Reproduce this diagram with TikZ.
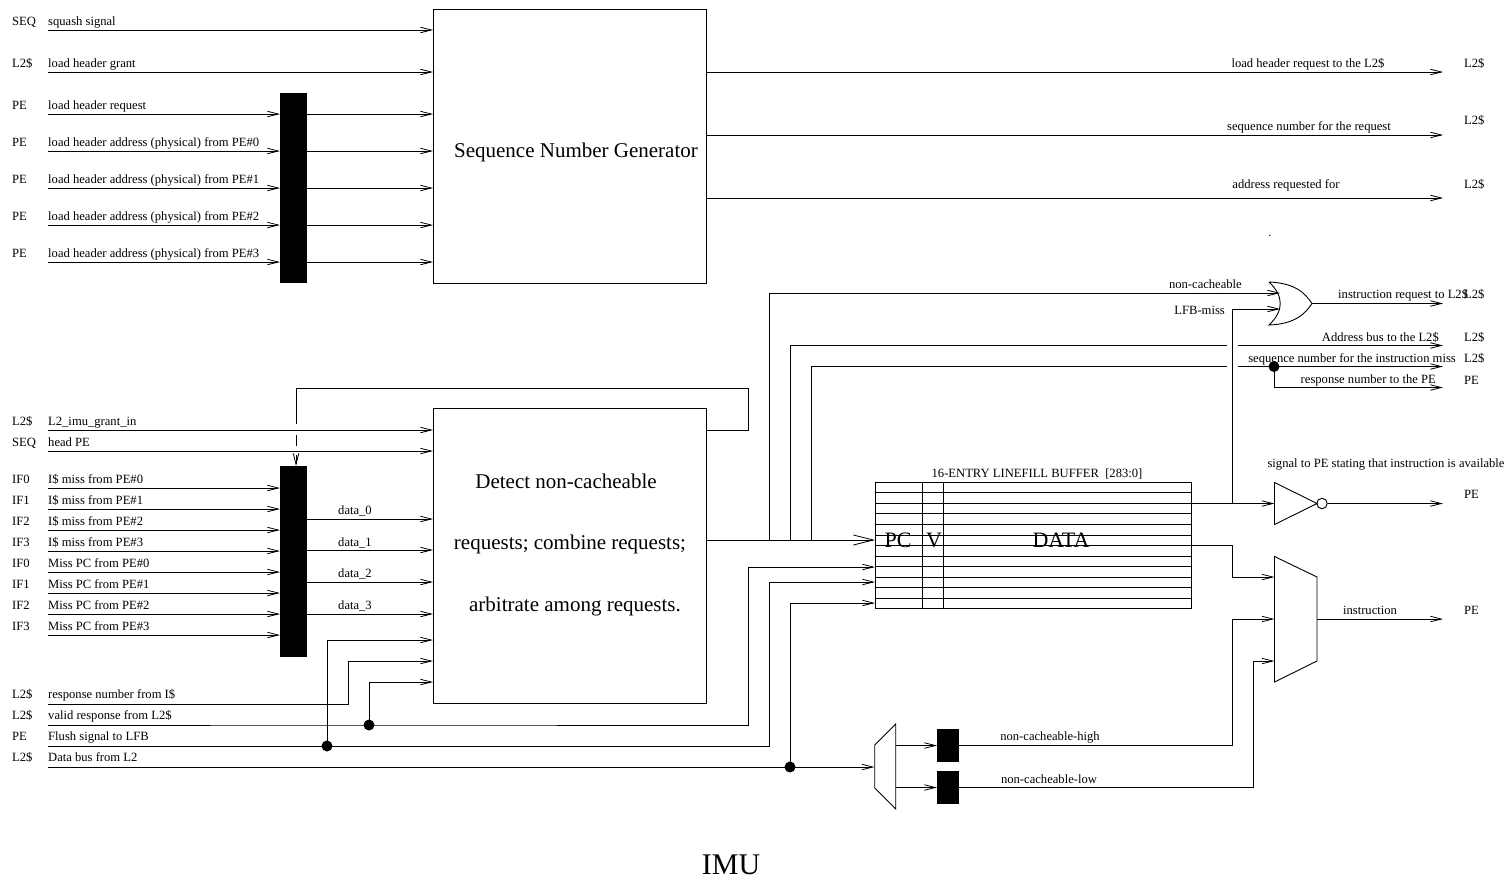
\documentclass[tikz,border=0pt]{standalone}
\usepackage{fontspec}
\setmainfont{Liberation Serif}
\usetikzlibrary{arrows.meta,calc,positioning}
\tikzset{
  wire/.style={line width=0.9pt},
  sig/.style={wire,-{Straight Barb[length=11pt,width=5.5pt,line width=0.8pt]}},
  bigsig/.style={wire,-{Straight Barb[length=20pt,width=10pt,line width=0.8pt]}},
  block/.style={draw,line width=0.9pt,inner sep=0pt,outer sep=0pt,font=\fontsize{21}{24}\selectfont},
  blackbar/.style={fill=black,inner sep=0pt,outer sep=0pt},
  junct/.style={circle,fill=black,inner sep=0pt,minimum size=11pt},
  lbl/.style={inner sep=0pt,font=\fontsize{12.6}{14}\selectfont,anchor=base west},
  lblr/.style={lbl,anchor=base east},
  lblc/.style={lbl,anchor=base},
  fieldlbl/.style={inner sep=0pt,font=\fontsize{22}{24}\selectfont,anchor=base},
  biglbl/.style={inner sep=0pt,font=\fontsize{21}{24}\selectfont,anchor=base},
}
\begin{document}
\begin{tikzpicture}[x=1pt,y=-1pt]
  \useasboundingbox (0,0) rectangle (1512,878);
  % main blocks
  \node[block,minimum width=273pt,minimum height=274pt] (seqgen) at (569.5,146) {};
  \node[block,minimum width=273pt,minimum height=295pt] (detect) at (569.5,556) {};
  \node[blackbar,minimum width=27pt,minimum height=190pt] (barA) at (293.5,188) {};
  \node[blackbar,minimum width=27pt,minimum height=191pt] (barB) at (293.5,561.5) {};
  \node[biglbl] (seqtext) at (576,157) {Sequence Number Generator};
  \node[biglbl] (dettextA) at (566,488) {Detect non-cacheable};
  \node[biglbl] (dettextB) at (570,549) {requests; combine requests;};
  \node[biglbl] (dettextC) at (575,611) {arbitrate among requests.};

  % inputs of the sequence number generator
  \node[lbl] (srcA) at (12,25) {SEQ};
  \node[lbl] (srcB) at (12,67) {L2\$};
  \node[lbl] (srcC) at (12,109) {PE};
  \node[lbl] (srcD) at (12,146) {PE};
  \node[lbl] (srcE) at (12,183) {PE};
  \node[lbl] (srcF) at (12,220) {PE};
  \node[lbl] (srcG) at (12,257) {PE};
  \node[lbl] (nameA) at (48,25) {squash signal};
  \node[lbl] (nameB) at (48,67) {load header grant};
  \node[lbl] (nameC) at (48,109) {load header request};
  \node[lbl] (nameD) at (48,146) {load header address (physical) from PE\#0};
  \node[lbl] (nameE) at (48,183) {load header address (physical) from PE\#1};
  \node[lbl] (nameF) at (48,220) {load header address (physical) from PE\#2};
  \node[lbl] (nameG) at (48,257) {load header address (physical) from PE\#3};
  \coordinate (inA) at (48,30);
  \coordinate (inB) at (48,72);
  \coordinate (inC) at (48,114);
  \coordinate (inD) at (48,151);
  \coordinate (inE) at (48,188);
  \coordinate (inF) at (48,225);
  \coordinate (inG) at (48,262);
  \draw[sig] (inA) -- (inA -| seqgen.west);
  \draw[sig] (inB) -- (inB -| seqgen.west);
  \draw[sig] (inC) -- (inC -| barA.west);
  \draw[sig] (inD) -- (inD -| barA.west);
  \draw[sig] (inE) -- (inE -| barA.west);
  \draw[sig] (inF) -- (inF -| barA.west);
  \draw[sig] (inG) -- (inG -| barA.west);
  \draw[sig] (inC -| barA.east) -- (inC -| seqgen.west);
  \draw[sig] (inD -| barA.east) -- (inD -| seqgen.west);
  \draw[sig] (inE -| barA.east) -- (inE -| seqgen.west);
  \draw[sig] (inF -| barA.east) -- (inF -| seqgen.west);
  \draw[sig] (inG -| barA.east) -- (inG -| seqgen.west);

  % outputs of the sequence number generator
  \coordinate (outA) at (1443,72);
  \coordinate (outB) at (1443,135);
  \coordinate (outC) at (1443,198);
  \draw[sig] (outA -| seqgen.east) -- (outA);
  \draw[sig] (outB -| seqgen.east) -- (outB);
  \draw[sig] (outC -| seqgen.east) -- (outC);
  \node[lblc] (outnameA) at (1308,67) {load header request to the L2\$};
  \node[lblc] (outnameB) at (1309,130) {sequence number for the request};
  \node[lblc] (outnameC) at (1286,188) {address requested for};
  \node[lbl] (dstA) at (1464,67) {L2\$};
  \node[lbl] (dstB) at (1464,124) {L2\$};
  \node[lbl] (dstC) at (1464,188) {L2\$};
  \node[lblc] (stray) at (1270,236) {.};

  % inputs of the detect block
  \node[lbl] (srcH) at (12,425) {L2\$};
  \node[lbl] (srcI) at (12,446) {SEQ};
  \node[lbl] (nameH) at (48,425) {L2\_imu\_grant\_in};
  \node[lbl] (nameI) at (48,446) {head PE};
  \coordinate (inH) at (48,430);
  \coordinate (inI) at (48,451);
  \draw[sig] (inH) -- (inH -| detect.west);
  \draw[sig] (inI) -- (inI -| detect.west);
  \node[lbl] (srcJ) at (12,483) {IF0};
  \node[lbl] (srcK) at (12,504) {IF1};
  \node[lbl] (srcL) at (12,525) {IF2};
  \node[lbl] (srcM) at (12,546) {IF3};
  \node[lbl] (srcN) at (12,567) {IF0};
  \node[lbl] (srcO) at (12,588) {IF1};
  \node[lbl] (srcP) at (12,609) {IF2};
  \node[lbl] (srcQ) at (12,630) {IF3};
  \node[lbl] (nameJ) at (48,483) {I\$ miss from PE\#0};
  \node[lbl] (nameK) at (48,504) {I\$ miss from PE\#1};
  \node[lbl] (nameL) at (48,525) {I\$ miss from PE\#2};
  \node[lbl] (nameM) at (48,546) {I\$ miss from PE\#3};
  \node[lbl] (nameN) at (48,567) {Miss PC from PE\#0};
  \node[lbl] (nameO) at (48,588) {Miss PC from PE\#1};
  \node[lbl] (nameP) at (48,609) {Miss PC from PE\#2};
  \node[lbl] (nameQ) at (48,630) {Miss PC from PE\#3};
  \coordinate (inJ) at (48,488);
  \coordinate (inK) at (48,509);
  \coordinate (inL) at (48,530);
  \coordinate (inM) at (48,551);
  \coordinate (inN) at (48,572);
  \coordinate (inO) at (48,593);
  \coordinate (inP) at (48,614);
  \coordinate (inQ) at (48,635);
  \draw[sig] (inJ) -- (inJ -| barB.west);
  \draw[sig] (inK) -- (inK -| barB.west);
  \draw[sig] (inL) -- (inL -| barB.west);
  \draw[sig] (inM) -- (inM -| barB.west);
  \draw[sig] (inN) -- (inN -| barB.west);
  \draw[sig] (inO) -- (inO -| barB.west);
  \draw[sig] (inP) -- (inP -| barB.west);
  \draw[sig] (inQ) -- (inQ -| barB.west);

  % data lines out of the black bar
  \coordinate (dataA) at (433,519);
  \coordinate (dataB) at (433,550);
  \coordinate (dataC) at (433,582);
  \coordinate (dataD) at (433,614);
  \draw[sig] (dataA -| barB.east) -- (dataA);
  \draw[sig] (dataB -| barB.east) -- (dataB);
  \draw[sig] (dataC -| barB.east) -- (dataC);
  \draw[sig] (dataD -| barB.east) -- (dataD);
  \node[lbl] (dataAname) at (338,514) {data\_0};
  \node[lbl] (dataBname) at (338,546) {data\_1};
  \node[lbl] (dataCname) at (338,577) {data\_2};
  \node[lbl] (dataDname) at (338,609) {data\_3};

  % grant loop back into the black bar
  \coordinate (loopA) at (748,430);
  \coordinate (loopB) at (748,388);
  \coordinate (loopC) at (296,388);
  \coordinate (gapA) at (296,424);
  \coordinate (gapB) at (296,435);
  \coordinate (gapC) at (296,446);
  \coordinate (gapD) at (296,455);
  \draw[wire] (loopA -| detect.east) -- (loopA) -- (loopB) -- (loopC) -- (gapA);
  \draw[wire] (gapB) -- (gapC);
  \draw[sig] (gapD) -- (gapD |- barB.north);

  % bottom inputs
  \node[lbl] (srcR) at (12,698) {L2\$};
  \node[lbl] (srcS) at (12,719) {L2\$};
  \node[lbl] (srcT) at (12,740) {PE};
  \node[lbl] (srcU) at (12,761) {L2\$};
  \node[lbl] (nameR) at (48,698) {response number from I\$};
  \node[lbl] (nameS) at (48,719) {valid response from L2\$};
  \node[lbl] (nameT) at (48,740) {Flush signal to LFB};
  \node[lbl] (nameU) at (48,761) {Data bus from L2};
  \coordinate (inR) at (48,704);
  \coordinate (inS) at (48,725);
  \coordinate (inT) at (48,746);
  \coordinate (inU) at (48,767);
  \node[junct] (dotS) at (369,725) {};
  \node[junct] (dotT) at (327,746) {};
  \node[junct] (dotU) at (790,767) {};
  \coordinate (pinA) at (433,640);
  \coordinate (pinB) at (433,661);
  \coordinate (pinC) at (433,682);
  \draw[sig] (inR) -- (348,704) -- (348,661) -- (pinB);
  \draw[sig] (dotS.center) -- (dotS.center |- pinC) -- (pinC);
  \draw[sig] (dotT.center) -- (dotT.center |- pinA) -- (pinA);

  % linefill buffer
  \node[block,minimum width=316pt,minimum height=126.5pt] (lfb) at (1033,545.5) {};
  \draw[wire] ($(lfb.north west)+(0,10.55)$) -- ($(lfb.north east)+(0,10.55)$);
  \draw[wire] ($(lfb.north west)+(0,21.1)$) -- ($(lfb.north east)+(0,21.1)$);
  \draw[wire] ($(lfb.north west)+(0,31.6)$) -- ($(lfb.north east)+(0,31.6)$);
  \draw[wire] ($(lfb.north west)+(0,42.2)$) -- ($(lfb.north east)+(0,42.2)$);
  \draw[wire] ($(lfb.north west)+(0,52.7)$) -- ($(lfb.north east)+(0,52.7)$);
  \draw[wire] ($(lfb.north west)+(0,63.2)$) -- ($(lfb.north east)+(0,63.2)$);
  \draw[wire] ($(lfb.north west)+(0,73.8)$) -- ($(lfb.north east)+(0,73.8)$);
  \draw[wire] ($(lfb.north west)+(0,84.3)$) -- ($(lfb.north east)+(0,84.3)$);
  \draw[wire] ($(lfb.north west)+(0,94.9)$) -- ($(lfb.north east)+(0,94.9)$);
  \draw[wire] ($(lfb.north west)+(0,105.4)$) -- ($(lfb.north east)+(0,105.4)$);
  \draw[wire] ($(lfb.north west)+(0,115.9)$) -- ($(lfb.north east)+(0,115.9)$);
  \draw[wire] ($(lfb.north west)+(47,0)$) -- ($(lfb.south west)+(47,0)$);
  \draw[wire] ($(lfb.north west)+(68,0)$) -- ($(lfb.south west)+(68,0)$);
  \node[fieldlbl] (pcname) at (898,547) {PC};
  \node[fieldlbl] (vname) at (934,547) {V};
  \node[fieldlbl] (dataname) at (1061,547) {DATA};
  \node[lblc] (lfbname) at (1037,477) {16-ENTRY LINEFILL BUFFER\ \ [283:0]};

  % wires from the detect block
  \coordinate (fanA) at (769,540);
  \coordinate (fanB) at (790,540);
  \coordinate (fanC) at (811,540);
  \coordinate (riseA) at (769,293);
  \coordinate (riseB) at (790,345.5);
  \coordinate (riseC) at (811,366.5);
  \coordinate (orinA) at (1280,293);
  \coordinate (orinB) at (1280,309);
  \coordinate (hopA) at (1227,345.5);
  \coordinate (hopB) at (1238,345.5);
  \coordinate (hopC) at (1227,366.5);
  \coordinate (hopD) at (1238,366.5);
  \coordinate (busA) at (1443,345.5);
  \coordinate (busB) at (1443,366.5);
  \coordinate (busC) at (1443,387.5);
  \draw[bigsig] (fanA -| detect.east) -- (fanA -| lfb.west);
  \draw[wire] (fanA) -- (riseA);
  \draw[wire] (fanB) -- (riseB) -- (hopA);
  \draw[wire] (fanC) -- (riseC) -- (hopC);
  \draw[sig] (riseA) -- (orinA);
  \draw[sig] (hopB) -- (busA);
  \draw[sig] (hopD) -- (busB);
  \node[junct] (dotV) at (1274,366.5) {};
  \draw[sig] (dotV.center) -- (dotV.center |- busC) -- (busC);

  % wires into the linefill buffer
  \coordinate (lfbA) at (875,567);
  \coordinate (lfbB) at (875,582);
  \coordinate (lfbC) at (875,603);
  \coordinate (demuxin) at (874.5,767);
  \draw[sig] (inS) -- (dotS.center) -- (748,725) -- (748,567) -- (lfbA);
  \draw[sig] (inT) -- (dotT.center) -- (769,746) -- (769,582) -- (lfbB);
  \draw[sig] (dotU.center) -- (dotU.center |- lfbC) -- (lfbC);
  \draw[sig] (inU) -- (demuxin);

  % OR gate
  \coordinate (ortop) at (1269,282);
  \coordinate (ortip) at (1312,303.5);
  \coordinate (orbot) at (1269,325);
  \draw[wire] (ortop) .. controls (1295,283) and (1305,293) .. (ortip)
    .. controls (1305,314) and (1295,324) .. (orbot)
    .. controls (1284,311) and (1284,296) .. (ortop);
  \coordinate (orout) at (1443,303.5);
  \draw[sig] (ortip) -- (orout);
  \node[lblr] (orinAname) at (1242,288) {non-cacheable};
  \node[lblr] (orinBname) at (1225,314) {LFB-miss};
  \node[lbl] (oroutname) at (1338,298) {instruction request to L2\$};
  \node[lbl] (dstD) at (1464,298) {L2\$};
  \node[lblr] (busAname) at (1439,341) {Address bus to the L2\$};
  \node[lblr] (busBname) at (1456,362) {sequence number for the instruction miss};
  \node[lblr] (busCname) at (1436,383) {response number to the PE};
  \node[lbl] (dstE) at (1464,341) {L2\$};
  \node[lbl] (dstF) at (1464,362) {L2\$};
  \node[lbl] (dstG) at (1464,384) {PE};

  % inverter
  \coordinate (invtop) at (1274.5,482.5);
  \coordinate (invbot) at (1274.5,524.5);
  \coordinate (invtip) at (1317,503.5);
  \coordinate (invin) at (1274.5,503.5);
  \coordinate (invout) at (1443,503.5);
  \coordinate (missup) at (1232,503.5);
  \draw[wire] (invtop) -- (invtip) -- (invbot) -- cycle;
  \node[draw,circle,line width=0.9pt,inner sep=0pt,minimum size=10.5pt] (invbub) at (1322,503.5) {};
  \draw[sig] (invin -| lfb.east) -- (invin);
  \draw[sig] (missup) -- (missup |- orinB) -- (orinB);
  \draw[sig] (invbub.east) -- (invout);
  \node[lblc] (invname) at (1386,467) {signal to PE stating that instruction is available};
  \node[lbl] (dstH) at (1464,498) {PE};

  % output mux
  \coordinate (muxtl) at (1274.5,556.5);
  \coordinate (muxtr) at (1317,577);
  \coordinate (muxbr) at (1317,661);
  \coordinate (muxbl) at (1274.5,682);
  \draw[wire] (muxtl) -- (muxtr) -- (muxbr) -- (muxbl) -- cycle;
  \coordinate (muxinA) at (1274.5,577);
  \coordinate (muxinB) at (1274.5,619);
  \coordinate (muxinC) at (1274.5,661);
  \coordinate (muxout) at (1443,619);
  \draw[sig] (lfb.east |- 0,545.7) -- (1232,545.7) -- (1232,577) -- (muxinA);
  \draw[sig] (muxinB -| muxbr) -- (muxout);
  \node[lblc] (muxname) at (1370,614) {instruction};
  \node[lbl] (dstI) at (1464,614) {PE};

  % demux and its two black latches
  \coordinate (dmxtl) at (874.7,745);
  \coordinate (dmxtr) at (895.7,724);
  \coordinate (dmxbr) at (895.7,809);
  \coordinate (dmxbl) at (874.7,788);
  \draw[wire] (dmxtl) -- (dmxtr) -- (dmxbr) -- (dmxbl) -- cycle;
  \node[blackbar,minimum width=22pt,minimum height=33pt] (latchA) at (948,745.5) {};
  \node[blackbar,minimum width=22pt,minimum height=33pt] (latchB) at (948,787.5) {};
  \draw[sig] (dmxtr |- latchA) -- (latchA.west);
  \draw[sig] (dmxbr |- latchB) -- (latchB.west);
  \draw[sig] (latchA.east) -- (1232,745.5) -- (1232,619) -- (muxinB);
  \draw[sig] (latchB.east) -- (1253.5,787.5) -- (1253.5,661) -- (muxinC);
  \node[lblc] (latchAname) at (1050,740) {non-cacheable-high};
  \node[lblc] (latchBname) at (1049,783) {non-cacheable-low};

  \node[inner sep=0pt,font=\fontsize{30}{34}\selectfont,anchor=base] (title) at (731,874) {IMU};
\end{tikzpicture}
\end{document}
